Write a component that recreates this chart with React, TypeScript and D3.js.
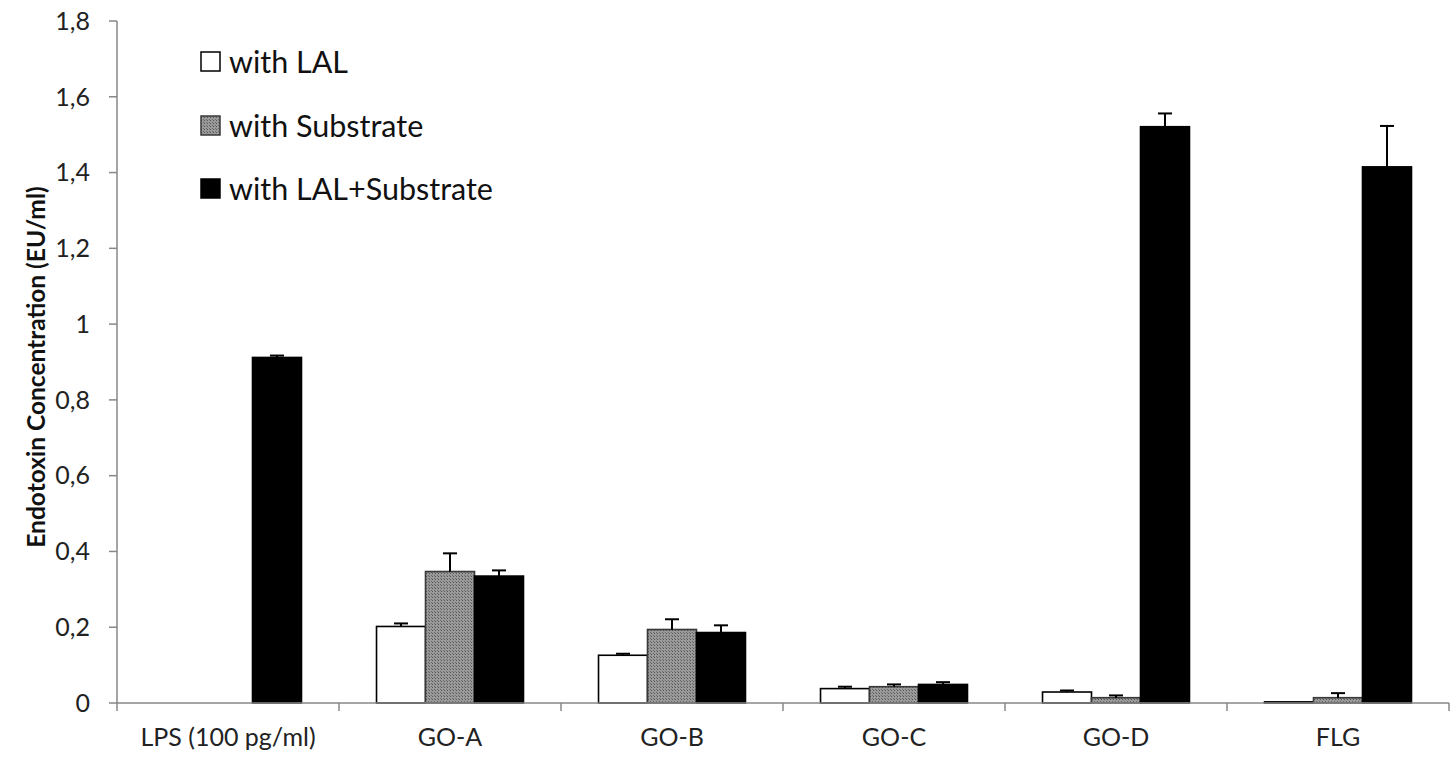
import React from "react";
import * as d3 from "d3";

const categories = ["LPS (100 pg/ml)", "GO-A", "GO-B", "GO-C", "GO-D", "FLG"];
const seriesNames = ["with LAL", "with Substrate", "with LAL+Substrate"];
const withLAL = [0, 0.202, 0.126, 0.038, 0.029, 0.003];
const withLALErr = [0, 0.008, 0.004, 0.005, 0.004, 0];
const withSubstrate = [0, 0.347, 0.194, 0.043, 0.014, 0.014];
const withSubstrateErr = [0, 0.048, 0.027, 0.006, 0.006, 0.012];
const withLALSubstrate = [0.912, 0.335, 0.186, 0.049, 1.521, 1.415];
const withLALSubstrateErr = [0.005, 0.015, 0.019, 0.006, 0.035, 0.108];
const yTicks = [0, 0.2, 0.4, 0.6, 0.8, 1, 1.2, 1.4, 1.6, 1.8];

const W = 1456;
const H = 757;
const FONT = "Lato, 'Open Sans', sans-serif";

export default function App() {
  const x0 = d3.scaleBand<string>().domain(categories).range([117, 1449]).padding(0);
  const bw = x0.bandwidth();
  const x1 = d3
    .scaleBand<string>()
    .domain(seriesNames)
    .range([bw * 0.169, bw * 0.831])
    .padding(0);
  const y = d3.scaleLinear().domain([0, 1.8]).range([703, 21]);

  const values = [withLAL, withSubstrate, withLALSubstrate];
  const errs = [withLALErr, withSubstrateErr, withLALSubstrateErr];
  const fills = ["#ffffff", "url(#hatch)", "#000000"];
  const strokes = ["#000000", "#3a3a3a", "#000000"];

  const fmt = (v: number) => (Math.round(v * 10) / 10).toString().replace(".", ",");

  const legendY = [62, 126, 189];

  return (
    <svg
      width={W}
      height={H}
      style={{ position: "absolute", left: 0, top: 0, background: "#fff" }}
      fontFamily={FONT}
    >
      <defs>
        <pattern id="hatch" width="3" height="3" patternUnits="userSpaceOnUse">
          <rect width="3" height="3" fill="#9a9a9a" />
          <rect width="1" height="1" fill="#555" />
          <rect x="2" y="2" width="1" height="1" fill="#6a6a6a" />
        </pattern>
      </defs>

      {/* bars */}
      {categories.map((c, ci) => (
        <g key={c}>
          {seriesNames.map((s, si) => {
            const v = values[si][ci];
            if (!v) return null;
            const bx = (x0(c) as number) + (x1(s) as number);
            const w = x1.bandwidth();
            const top = y(v);
            const e = errs[si][ci];
            const cx = bx + w / 2;
            return (
              <g key={s}>
                <rect
                  x={bx}
                  y={top}
                  width={w}
                  height={Math.max(y(0) - top, 0.5)}
                  fill={fills[si]}
                  stroke={strokes[si]}
                  strokeWidth={1.6}
                />
                {e > 0 && (
                  <g stroke="#000" strokeWidth={2}>
                    <line x1={cx} x2={cx} y1={top} y2={y(v + e)} />
                    <line x1={cx - 7} x2={cx + 7} y1={y(v + e)} y2={y(v + e)} />
                  </g>
                )}
              </g>
            );
          })}
        </g>
      ))}

      {/* y axis */}
      <line x1={117} x2={117} y1={y(1.8)} y2={y(0)} stroke="#878787" strokeWidth={1.5} />
      {yTicks.map((t) => (
        <g key={t}>
          <line x1={109} x2={117} y1={y(t)} y2={y(t)} stroke="#878787" strokeWidth={1.5} />
          <text
            x={90}
            y={y(t)}
            dy="0.35em"
            textAnchor="end"
            fontSize={25}
            fill="#222"
          >
            {fmt(t)}
          </text>
        </g>
      ))}

      {/* x axis */}
      <line x1={117} x2={1449} y1={y(0)} y2={y(0)} stroke="#878787" strokeWidth={1.5} />
      {categories.map((c) => (
        <line
          key={"t" + c}
          x1={x0(c) as number}
          x2={x0(c) as number}
          y1={y(0)}
          y2={y(0) + 8}
          stroke="#878787"
          strokeWidth={1.5}
        />
      ))}
      <line x1={1449} x2={1449} y1={y(0)} y2={y(0) + 8} stroke="#878787" strokeWidth={1.5} />
      {categories.map((c) => (
        <text
          key={"l" + c}
          x={(x0(c) as number) + bw / 2}
          y={746}
          textAnchor="middle"
          fontSize={25}
          fill="#222"
        >
          {c}
        </text>
      ))}

      {/* y title */}
      <text
        transform={`translate(45, 367) rotate(-90)`}
        textAnchor="middle"
        fontSize={24.5}
        fontWeight="bold"
        fill="#111"
      >
        Endotoxin Concentration (EU/ml)
      </text>

      {/* legend */}
      {seriesNames.map((s, i) => (
        <g key={"lg" + s}>
          <rect
            x={201}
            y={legendY[i] - 10}
            width={19}
            height={19}
            fill={fills[i]}
            stroke={strokes[i]}
            strokeWidth={1.5}
          />
          <text x={229} y={legendY[i]} dy="0.36em" fontSize={30.5} fill="#111">
            {s}
          </text>
        </g>
      ))}
    </svg>
  );
}
